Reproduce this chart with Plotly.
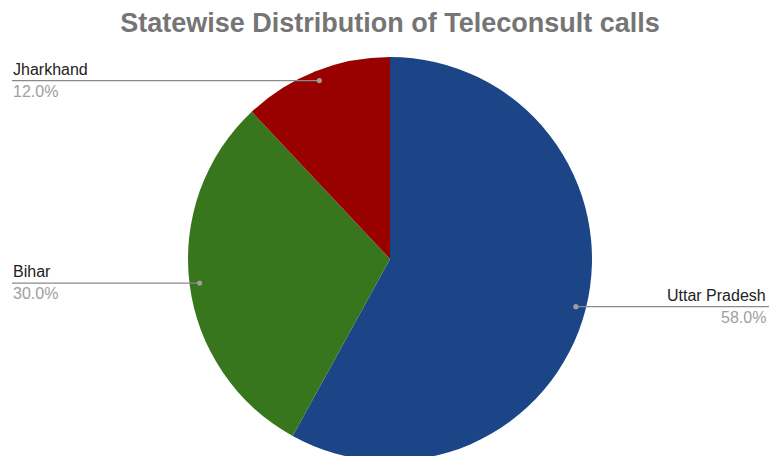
import math
import plotly.graph_objects as go

labels = ["Uttar Pradesh", "Bihar", "Jharkhand"]
values = [58.0, 30.0, 12.0]
colors = ["#1c4587", "#38761d", "#990000"]
title = "Statewise Distribution of Teleconsult calls"

W, H = 769, 462
cx, cy, r = 390, 259, 202

fig = go.Figure(go.Pie(
    labels=labels, values=values, sort=False, direction="clockwise", rotation=0,
    marker=dict(colors=colors, line=dict(width=0)),
    textinfo="none", hoverinfo="label+percent", showlegend=False,
    domain=dict(x=[(cx - r) / W, (cx + r) / W], y=[(H - (cy + r)) / H, (H - (cy - r)) / H]),
))

def px(x):
    return x / W

def py(y):
    return 1 - y / H

shapes, annotations = [], []
total = sum(values)
cum = 0.0
for lab, v in zip(labels, values):
    mid = (cum + v / 2) / total * 2 * math.pi
    cum += v
    x0 = cx + math.sin(mid) * r * 0.95
    y0 = cy - math.cos(mid) * r * 0.95
    right = x0 > cx
    xe = W if right else 12
    shapes.append(dict(type="line", xref="paper", yref="paper", x0=px(x0), x1=px(xe),
                       y0=py(y0), y1=py(y0), line=dict(color="#8a8a8a", width=1.3)))
    shapes.append(dict(type="circle", xref="paper", yref="paper", xsizemode="pixel",
                       ysizemode="pixel", xanchor=px(x0), yanchor=py(y0),
                       x0=-2.6, x1=2.6, y0=-2.6, y1=2.6,
                       fillcolor="#9e9e9e", line=dict(width=0)))
    xa = px(W - 1) if right else px(11)
    xanch = "right" if right else "left"
    annotations.append(dict(text=lab, x=xa, y=py(y0 - 1), xref="paper", yref="paper",
                            xanchor=xanch, yanchor="bottom", showarrow=False,
                            font=dict(size=16, color="#222222", family="Arial, Liberation Sans")))
    pct = v / total * 100
    annotations.append(dict(text=f"{pct:.1f}%", x=xa, y=py(y0 + 0), xref="paper", yref="paper",
                            xanchor=xanch, yanchor="top", showarrow=False,
                            font=dict(size=16, color="#9e9e9e", family="Arial, Liberation Sans")))

fig.update_layout(
    width=W, height=H, margin=dict(l=0, r=0, t=0, b=0),
    paper_bgcolor="white", plot_bgcolor="white",
    title=dict(text=f"<b>{title}</b>", x=390 / W, xanchor="center", y=1 - 23 / H, yanchor="middle",
               font=dict(size=27, color="#757575", family="Arial, Liberation Sans")),
    shapes=shapes, annotations=annotations,
)

fig.write_html("out.html")
